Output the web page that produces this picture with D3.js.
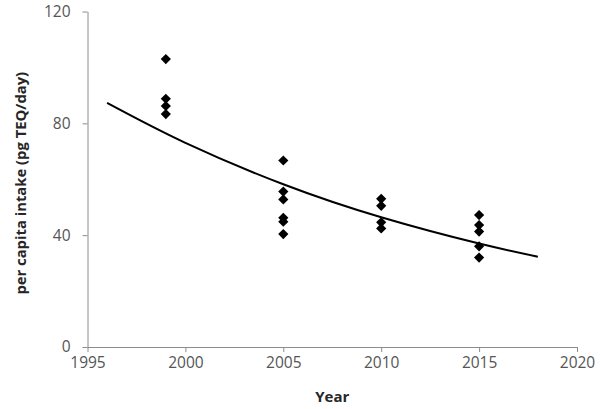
<!DOCTYPE html>
<html>
<head>
<meta charset="utf-8">
<script src="https://cdn.jsdelivr.net/npm/d3@7"></script>
<style>
  html, body { margin: 0; padding: 0; background: #fff; }
  svg { display: block; }
</style>
</head>
<body>
<svg id="chart" width="611" height="409"></svg>
<script>
// Observed data (year, per capita intake pg TEQ/day)
const years = [1999, 1999, 1999, 1999,
               2005, 2005, 2005, 2005, 2005, 2005,
               2010, 2010, 2010, 2010,
               2015, 2015, 2015, 2015, 2015];
const intake = [103, 88.8, 86.2, 83.3,
                66.7, 55.6, 52.8, 46.2, 44.8, 40.4,
                53.0, 50.5, 44.6, 42.4,
                47.2, 43.6, 41.3, 36.0, 32.0];

// Trend curve
const trendYears = [1996, 2000, 2005, 2010, 2015, 2018];
const trendValues = [87.3, 73.0, 58.2, 46.4, 37.0, 32.3];

const xTicks = [1995, 2000, 2005, 2010, 2015, 2020];
const yTicks = [0, 40, 80, 120];

const svg = d3.select("#chart");
const x = d3.scaleLinear().domain([1995, 2020]).range([87.5, 577]);
const y = d3.scaleLinear().domain([0, 120]).range([347, 11.5]);

const axisColor = "#8c8c8c";
const labelColor = "#555555";
const font = "'Open Sans', 'Liberation Sans', sans-serif";

// X axis
const gx = svg.append("g").attr("transform", `translate(0,${y(0)})`)
  .call(d3.axisBottom(x).tickValues(xTicks).tickFormat(d3.format("d")).tickSize(5).tickSizeOuter(0).tickPadding(5));
gx.select(".domain").attr("stroke", axisColor);
gx.selectAll(".tick line").attr("stroke", axisColor);
gx.selectAll(".tick text").attr("fill", labelColor).style("font-family", font).style("font-size", "15.5px");

// Y axis
const gy = svg.append("g").attr("transform", `translate(${x(1995)},0)`)
  .call(d3.axisLeft(y).tickValues(yTicks).tickSize(5).tickSizeOuter(0).tickPadding(12));
gy.select(".domain").attr("stroke", axisColor);
gy.selectAll(".tick line").attr("stroke", axisColor);
gy.selectAll(".tick text").attr("fill", labelColor).style("font-family", font).style("font-size", "15.5px");

// Axis titles
svg.append("text")
  .attr("x", (x(1995) + x(2020)) / 2).attr("y", 402)
  .attr("text-anchor", "middle")
  .style("font-family", font).style("font-size", "15px").style("font-weight", "bold")
  .attr("fill", "#262626")
  .text("Year");

svg.append("text")
  .attr("transform", `translate(26,${(y(0) + y(120)) / 2 + 4}) rotate(-90)`)
  .attr("text-anchor", "middle")
  .style("font-family", font).style("font-size", "14.8px").style("font-weight", "bold")
  .attr("fill", "#262626")
  .text("per capita intake (pg TEQ/day)");

// Trend line
const trend = trendYears.map((t, i) => [t, trendValues[i]]);
svg.append("path")
  .datum(trend)
  .attr("fill", "none")
  .attr("stroke", "#000")
  .attr("stroke-width", 2)
  .attr("d", d3.line().x(d => x(d[0])).y(d => y(d[1])).curve(d3.curveNatural));

// Points (diamonds)
const pts = years.map((t, i) => [t, intake[i]]);
const sym = d3.symbol().type(d3.symbolSquare).size(52);
svg.append("g").selectAll("path")
  .data(pts)
  .join("path")
  .attr("d", sym)
  .attr("transform", d => `translate(${x(d[0])},${y(d[1])}) rotate(45)`)
  .attr("fill", "#000");
</script>
</body>
</html>
